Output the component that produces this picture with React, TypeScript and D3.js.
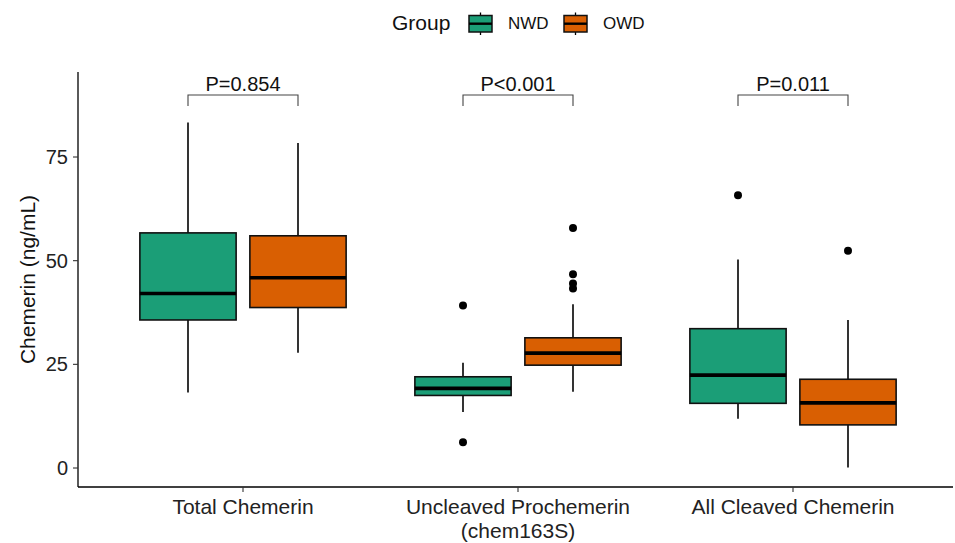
import React, { useEffect, useRef } from 'react';
import * as d3 from 'd3';

// categories on the x axis (second line after \n)
const categories = ['Total Chemerin', 'Uncleaved Prochemerin\n(chem163S)', 'All Cleaved Chemerin'];
const groups = ['NWD', 'OWD'];
const groupColors = ['#1B9E77', '#D95F02'];

// box stats, [NWD, OWD] per category
const whiskerLow = [[18.2, 27.8], [13.5, 18.4], [11.9, 0.1]];
const q1 = [[35.7, 38.7], [17.5, 24.8], [15.6, 10.4]];
const median = [[42.1, 45.9], [19.2, 27.7], [22.4, 15.7]];
const q3 = [[56.7, 56.0], [22.0, 31.4], [33.6, 21.4]];
const whiskerHigh = [[83.3, 78.4], [25.4, 39.5], [50.3, 35.7]];
const outliers = [[[], []], [[39.2, 6.2], [57.9, 46.7, 44.5, 43.3]], [[65.8], [52.4]]];

const pLabels = ['P=0.854', 'P<0.001', 'P=0.011'];
const yTicks = [0, 25, 50, 75];

const W = 955;
const H = 543;
const font = '"Liberation Sans", Arial, sans-serif';

const App = () => {
  const svgRef = useRef(null);

  useEffect(() => {
    draw();
  }, []);

  const draw = () => {
    const svg = d3.select(svgRef.current);
    svg.selectAll('*').remove();

    const left = 78, right = 958, top = 72, bottom = 487;
    const x = d3.scaleLinear().domain([-0.6, 2.6]).range([left, right]);
    const y = d3.scaleLinear().domain([-4.58, 95.5]).range([bottom, top]);
    const dodge = 0.2;
    const bw = x(0.35) - x(0);

    // boxes
    categories.forEach((c, ci) => {
      groups.forEach((g, gi) => {
        const cx = x(ci + (gi === 0 ? -dodge : dodge));
        const gEl = svg.append('g');
        gEl.append('line')
          .attr('x1', cx).attr('x2', cx)
          .attr('y1', y(q3[ci][gi])).attr('y2', y(whiskerHigh[ci][gi]))
          .attr('stroke', '#000').attr('stroke-width', 1.6);
        gEl.append('line')
          .attr('x1', cx).attr('x2', cx)
          .attr('y1', y(q1[ci][gi])).attr('y2', y(whiskerLow[ci][gi]))
          .attr('stroke', '#000').attr('stroke-width', 1.6);
        gEl.append('rect')
          .attr('x', cx - bw / 2).attr('width', bw)
          .attr('y', y(q3[ci][gi])).attr('height', y(q1[ci][gi]) - y(q3[ci][gi]))
          .attr('fill', groupColors[gi])
          .attr('stroke', '#111').attr('stroke-width', 1.6);
        gEl.append('line')
          .attr('x1', cx - bw / 2).attr('x2', cx + bw / 2)
          .attr('y1', y(median[ci][gi])).attr('y2', y(median[ci][gi]))
          .attr('stroke', '#000').attr('stroke-width', 3.6);
        gEl.selectAll('circle')
          .data(outliers[ci][gi])
          .enter()
          .append('circle')
          .attr('cx', cx).attr('cy', d => y(d)).attr('r', 4)
          .attr('fill', '#000');
      });

      // significance bracket
      const x1 = x(ci - dodge), x2 = x(ci + dodge);
      svg.append('path')
        .attr('d', `M${x1},106V95H${x2}V106`)
        .attr('fill', 'none').attr('stroke', '#444').attr('stroke-width', 1.1);
      svg.append('text')
        .attr('x', x(ci)).attr('y', 91)
        .attr('text-anchor', 'middle')
        .attr('font-family', font).attr('font-size', 20)
        .attr('fill', '#111')
        .text(pLabels[ci]);
    });

    // axes
    svg.append('line').attr('x1', left).attr('x2', left).attr('y1', top).attr('y2', bottom)
      .attr('stroke', '#000').attr('stroke-width', 1.3);
    svg.append('line').attr('x1', left).attr('x2', W - 2).attr('y1', bottom).attr('y2', bottom)
      .attr('stroke', '#000').attr('stroke-width', 1.3);

    yTicks.forEach(t => {
      svg.append('line').attr('x1', left - 5).attr('x2', left).attr('y1', y(t)).attr('y2', y(t))
        .attr('stroke', '#333').attr('stroke-width', 1.1);
      svg.append('text')
        .attr('x', left - 10).attr('y', y(t)).attr('dy', '0.35em')
        .attr('text-anchor', 'end')
        .attr('font-family', font).attr('font-size', 20)
        .attr('fill', '#222')
        .text(t);
    });

    categories.forEach((c, ci) => {
      svg.append('line').attr('x1', x(ci)).attr('x2', x(ci)).attr('y1', bottom).attr('y2', bottom + 5)
        .attr('stroke', '#333').attr('stroke-width', 1.1);
      const t = svg.append('text')
        .attr('text-anchor', 'middle')
        .attr('font-family', font).attr('font-size', 21)
        .attr('fill', '#222');
      c.split('\n').forEach((line, li) => {
        t.append('tspan').attr('x', x(ci)).attr('y', 514 + li * 24).text(line);
      });
    });

    svg.append('text')
      .attr('transform', `translate(35,${(top + bottom) / 2}) rotate(-90)`)
      .attr('text-anchor', 'middle')
      .attr('font-family', font).attr('font-size', 21)
      .attr('fill', '#111')
      .text('Chemerin (ng/mL)');

    // legend
    const lg = svg.append('g');
    lg.append('text').attr('x', 392).attr('y', 30)
      .attr('font-family', font).attr('font-size', 21).attr('fill', '#111')
      .text('Group');
    const keyX = [469, 564];
    groups.forEach((g, gi) => {
      const kx = keyX[gi];
      lg.append('line').attr('x1', kx + 11.5).attr('x2', kx + 11.5).attr('y1', 12.5).attr('y2', 35)
        .attr('stroke', '#000').attr('stroke-width', 1.3);
      lg.append('rect').attr('x', kx).attr('y', 15.5).attr('width', 23).attr('height', 16.5)
        .attr('fill', groupColors[gi]).attr('stroke', '#111').attr('stroke-width', 1.5);
      lg.append('line').attr('x1', kx).attr('x2', kx + 23).attr('y1', 23.7).attr('y2', 23.7)
        .attr('stroke', '#000').attr('stroke-width', 2.4);
      lg.append('text').attr('x', kx + 39).attr('y', 29)
        .attr('font-family', font).attr('font-size', 17).attr('fill', '#111')
        .text(g);
    });
  };

  return (
    <svg ref={svgRef} width={W} height={H}
      style={{ position: 'absolute', left: 0, top: 0, background: '#fff' }} />
  );
};

export default App;
